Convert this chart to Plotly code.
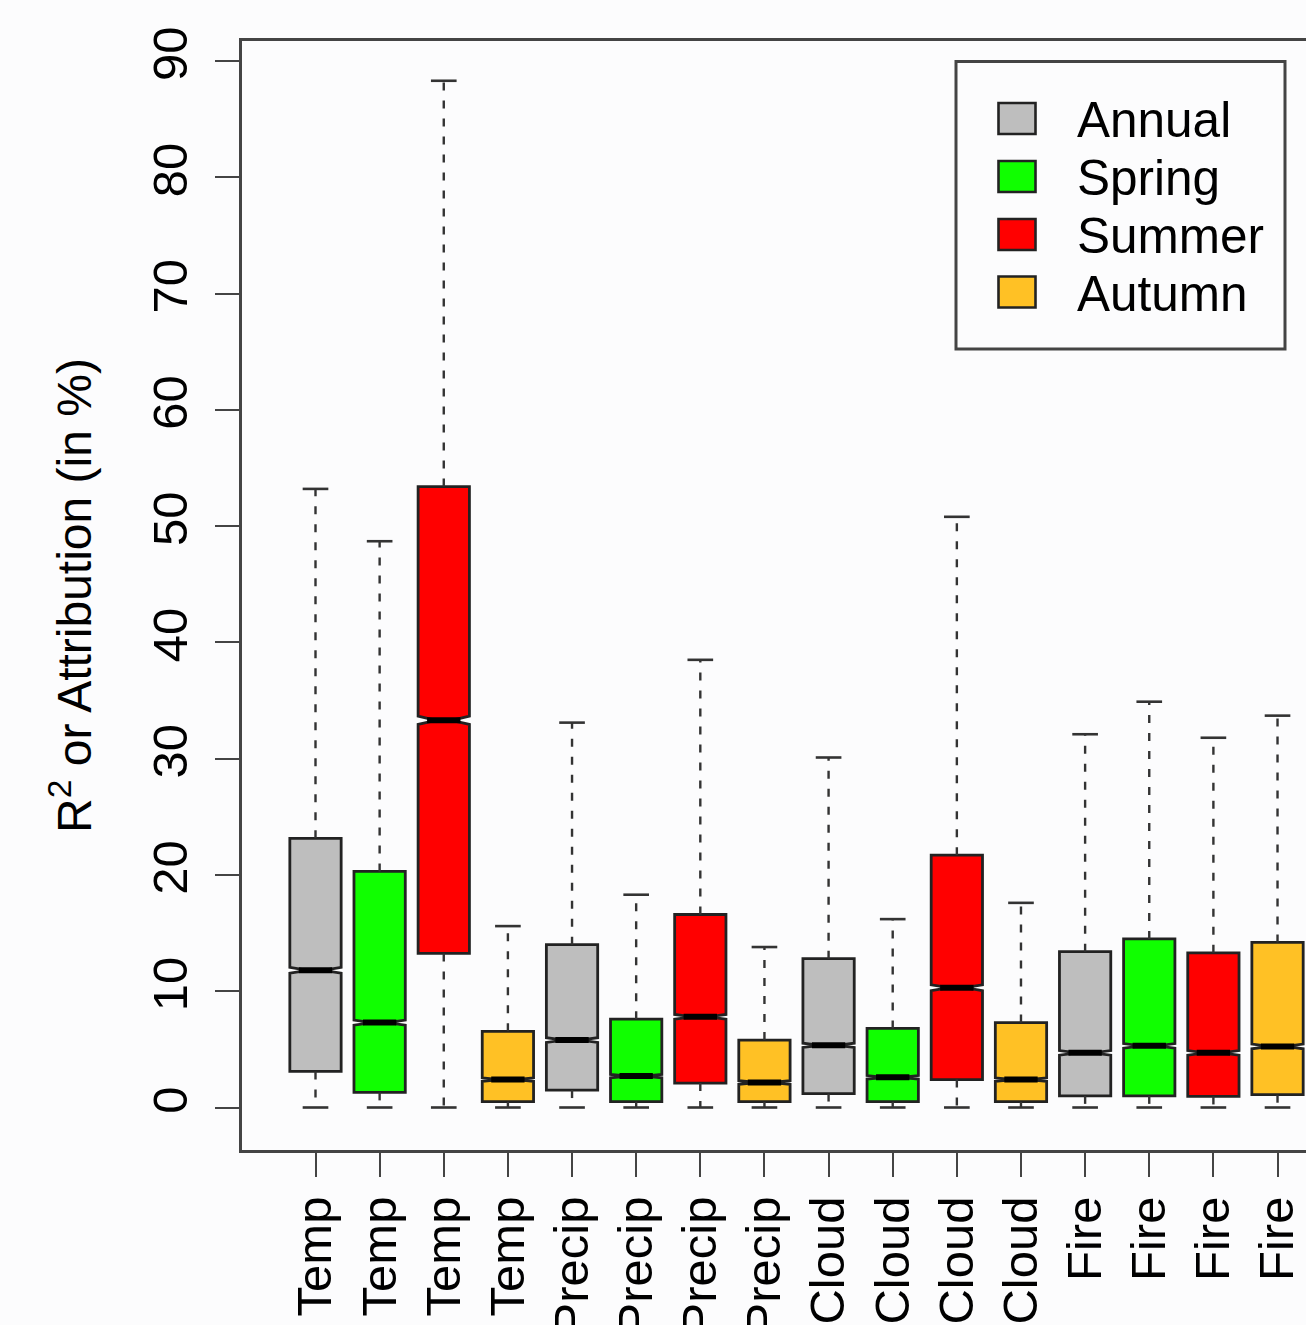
import plotly.graph_objects as go

# Variables and seasons, one box per (variable, season) pair
labels = ["Temp", "Temp", "Temp", "Temp",
          "Precip", "Precip", "Precip", "Precip",
          "Cloud", "Cloud", "Cloud", "Cloud",
          "Fire", "Fire", "Fire", "Fire"]
seasons = ["Annual", "Spring", "Summer", "Autumn"]
season_colors = ["#BEBEBE", "#10FF00", "#FF0000", "#FFC125"]

# Box statistics (R^2 / attribution, %)
wmin = [0, 0, 0, 0, 0, 0, 0, 0, 0, 0, 0, 0, 0, 0, 0, 0]
q1 = [3.1, 1.3, 13.25, 0.5, 1.5, 0.5, 2.1, 0.5, 1.2, 0.5, 2.4, 0.5, 1.0, 1.0, 0.95, 1.1]
median = [11.8, 7.3, 33.3, 2.4, 5.8, 2.7, 7.8, 2.15, 5.35, 2.6, 10.3, 2.4, 4.7, 5.3, 4.7, 5.25]
q3 = [23.15, 20.3, 53.4, 6.55, 14.0, 7.6, 16.6, 5.8, 12.8, 6.8, 21.7, 7.3, 13.4, 14.5, 13.3, 14.2]
wmax = [53.2, 48.7, 88.3, 15.6, 33.1, 18.3, 38.5, 13.8, 30.1, 16.2, 50.8, 17.6, 32.1, 34.9, 31.8, 33.7]
notch = [0.25, 0.22, 0.35, 0.15, 0.2, 0.15, 0.2, 0.15, 0.18, 0.15, 0.25, 0.15, 0.2, 0.2, 0.2, 0.2]

yticks = [0, 10, 20, 30, 40, 50, 60, 70, 80, 90]

FONT = "Liberation Sans, Arial, Helvetica, sans-serif"
INK = "#222222"
BG = "#FCFCFD"

positions = list(range(1, len(labels) + 1))
box_w = 0.8
notch_w = 0.35
half_staple = 0.2
half_med = box_w / 2 * (1 - notch_w)

fig = go.Figure()

# Dashed whiskers and solid staples
wx, wy, sx, sy = [], [], [], []
for i, p in enumerate(positions):
    wx += [p, p, None, p, p, None]
    wy += [q3[i], wmax[i], None, q1[i], wmin[i], None]
    sx += [p - half_staple, p + half_staple, None, p - half_staple, p + half_staple, None]
    sy += [wmax[i], wmax[i], None, wmin[i], wmin[i], None]

fig.add_trace(go.Scatter(x=wx, y=wy, mode="lines", showlegend=False, hoverinfo="skip",
                         line=dict(color="#333333", width=2.4, dash="8px,10px")))
fig.add_trace(go.Scatter(x=sx, y=sy, mode="lines", showlegend=False, hoverinfo="skip",
                         line=dict(color="#333333", width=2.6)))

# Notched boxes, one trace per season
for s, (name, col) in enumerate(zip(seasons, season_colors)):
    idx = [i for i in range(len(labels)) if i % 4 == s]
    fig.add_trace(go.Box(
        name=name,
        x=[positions[i] for i in idx],
        q1=[q1[i] for i in idx],
        median=[median[i] for i in idx],
        q3=[q3[i] for i in idx],
        lowerfence=[q1[i] for i in idx],
        upperfence=[q3[i] for i in idx],
        notchspan=[notch[i] for i in idx],
        notched=True,
        notchwidth=notch_w,
        width=box_w,
        whiskerwidth=0,
        fillcolor=col,
        line=dict(color=INK, width=2.8),
        boxpoints=False,
        showlegend=False,
    ))

# Heavy median bars
mx, my = [], []
for i, p in enumerate(positions):
    mx += [p - half_med, p + half_med, None]
    my += [median[i], median[i], None]
fig.add_trace(go.Scatter(x=mx, y=my, mode="lines", showlegend=False, hoverinfo="skip",
                         line=dict(color="#000000", width=6)))

# Plot geometry in pixels
W, H = 1306, 1325
L, R, T, B = 242, 0, 41, 175
pw, ph = W - L - R, H - T - B


def px(x):
    return (x - L) / pw


def py(y):
    return (H - B - y) / ph


# Legend drawn as shapes and text
shapes = [dict(type="rect", xref="paper", yref="paper",
               x0=px(956), x1=px(1285), y0=py(349), y1=py(61.5),
               line=dict(color="#444444", width=3), fillcolor=BG, layer="above")]
annotations = []
row_y = [118.5, 176.5, 234.5, 292]
for k, (name, col) in enumerate(zip(seasons, season_colors)):
    cy = row_y[k]
    shapes.append(dict(type="rect", xref="paper", yref="paper",
                       x0=px(998.5), x1=px(1035.5), y0=py(cy + 15.5), y1=py(cy - 15.5),
                       line=dict(color=INK, width=2.6), fillcolor=col, layer="above"))
    annotations.append(dict(xref="paper", yref="paper", x=px(1075), y=py(cy + 1),
                            text=name, showarrow=False, xanchor="left", yanchor="middle",
                            font=dict(family=FONT, size=49.5, color="#000000")))

fig.update_layout(
    width=W, height=H,
    margin=dict(l=L, r=R, t=T, b=B, pad=0),
    paper_bgcolor=BG, plot_bgcolor=BG,
    showlegend=False,
    boxmode="overlay",
    font=dict(family=FONT, color="#000000"),
    shapes=shapes,
    annotations=annotations,
    xaxis=dict(
        range=[-0.146, 16.444],
        automargin=False,
        tickmode="array", tickvals=positions, ticktext=labels,
        tickangle=-90,
        tickfont=dict(family=FONT, size=49, color="#000000"),
        ticks="outside", ticklen=24, tickwidth=2.2, tickcolor="#444444",
        ticklabelstandoff=0,
        showgrid=False, zeroline=False,
        showline=True, linecolor="#444444", linewidth=3, mirror=True,
    ),
    yaxis=dict(
        range=[-3.655, 91.72],
        automargin=False,
        tickmode="array", tickvals=yticks,
        tickangle=-90,
        tickfont=dict(family=FONT, size=49, color="#000000"),
        ticks="outside", ticklen=24, tickwidth=2.2, tickcolor="#444444",
        ticklabelstandoff=8,
        showgrid=False, zeroline=False,
        showline=True, linecolor="#444444", linewidth=3, mirror=False,
        title=dict(text="R<sup>2</sup> or Attribution (in %)",
                   font=dict(family=FONT, size=48, color="#000000"), standoff=37),
    ),
)

fig.write_html("out.html")
